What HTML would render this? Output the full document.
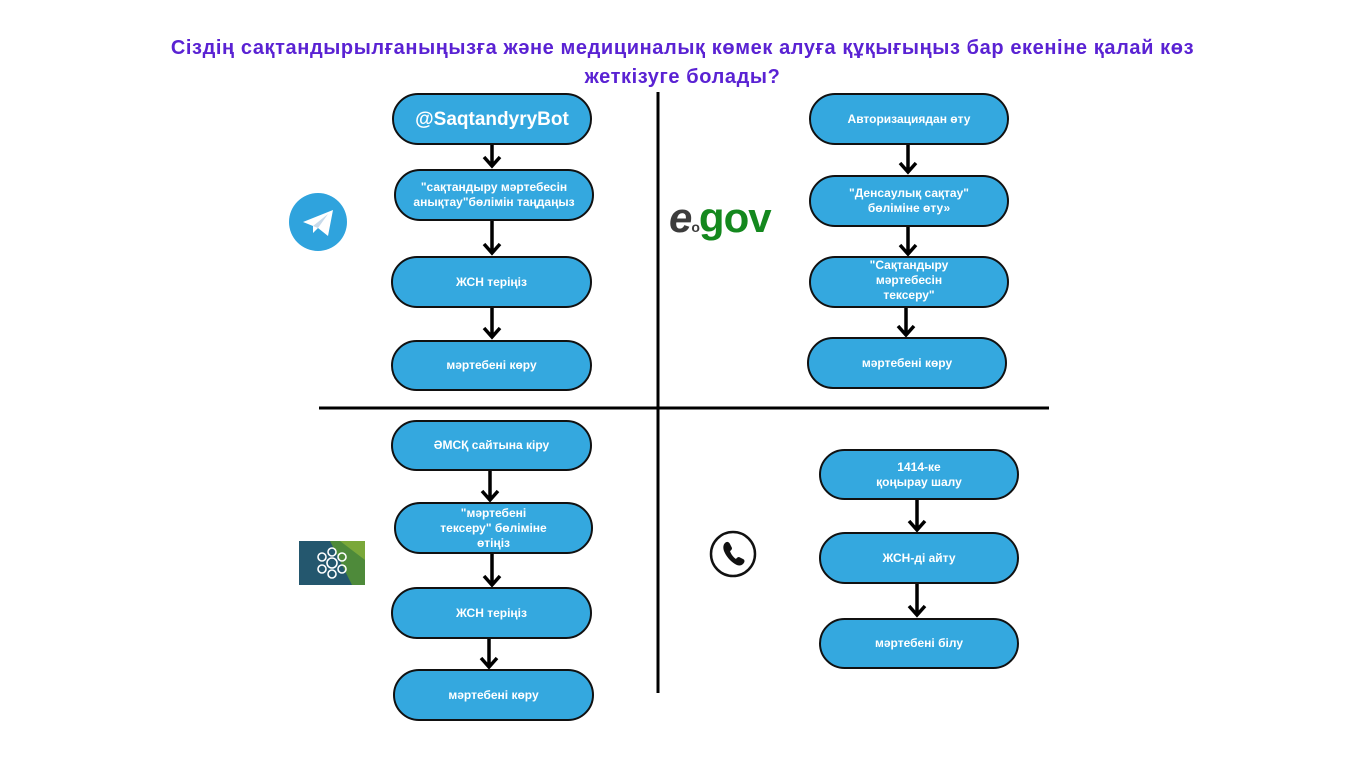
<!DOCTYPE html>
<html><head><meta charset="utf-8"><style>
html,body{margin:0;padding:0;background:#fff;}
body{width:1365px;height:768px;position:relative;overflow:hidden;font-family:"Liberation Sans","DejaVu Sans",sans-serif;}
.t{position:absolute;left:0;width:1365px;text-align:center;color:#5a22d3;font-weight:bold;font-size:20px;letter-spacing:0.6px;line-height:29px;top:34px;}
.b{position:absolute;box-sizing:border-box;background:#34a8df;border:2px solid #111;border-radius:26px;color:#fff;font-weight:bold;font-size:12px;line-height:15px;display:flex;align-items:center;justify-content:center;text-align:center;}
</style></head><body>
<div class="t">Сіздің сақтандырылғаныңызға және медициналық көмек алуға құқығыңыз бар екеніне қалай көз<br>жеткізуге болады?</div>
<svg width="1365" height="768" style="position:absolute;left:0;top:0">
<g stroke="#000" stroke-width="3" fill="none">
<line x1="658" y1="92" x2="658" y2="693"/>
<line x1="319" y1="408" x2="1049" y2="408"/>
</g>
<g stroke="#000" stroke-width="3.5" fill="none" stroke-linejoin="miter">
<path d="M492 145V166M484 157L492 166L500 157"/>
<path d="M492 221V253M484 244L492 253L500 244"/>
<path d="M492 308V337M484 328L492 337L500 328"/>
<path d="M908 145V172M900 163L908 172L916 163"/>
<path d="M908 227V254M900 245L908 254L916 245"/>
<path d="M906 308V335M898 326L906 335L914 326"/>
<path d="M490 471V500M482 491L490 500L498 491"/>
<path d="M492 554V585M484 576L492 585L500 576"/>
<path d="M489 639V667M481 658L489 667L497 658"/>
<path d="M917 500V530M909 521L917 530L925 521"/>
<path d="M917 584V615M909 606L917 615L925 606"/>
</g>
<circle cx="318" cy="222" r="29" fill="#2fa3dd"/>
<path d="M303 222L333 210L328 236L318 228L313 233L313 226Z" fill="#fff"/>
<path d="M313 226L328 214L318 228Z" fill="#c8daea"/>
<circle cx="733" cy="554" r="22" fill="#fff" stroke="#111" stroke-width="2.5"/>
<path d="M725 543c2-2 4-1 5 1l2 4c0 2-2 3-2 3 1 3 3 6 6 8 0 0 1-2 3-2l4 2c2 1 2 3 0 5-2 2-5 2-8 0-5-3-9-8-11-13-1-3-1-6 1-8z" fill="#111"/>
<rect x="299" y="541" width="66" height="44" fill="#24576e"/>
<polygon points="330,541 365,541 365,585 352,585" fill="#4e8a3a"/>
<polygon points="340,541 365,541 365,560" fill="#7aa83a"/>
<g stroke="#fff" stroke-width="1.6" fill="none">
<circle cx="332" cy="563" r="5"/><circle cx="332" cy="552" r="4"/><circle cx="332" cy="574" r="4"/>
<circle cx="322" cy="557" r="4"/><circle cx="342" cy="557" r="4"/><circle cx="322" cy="569" r="4"/><circle cx="342" cy="569" r="4"/>
</g>
</svg>
<div style="position:absolute;left:669px;top:196px;font-weight:bold;font-size:42px;line-height:44px;letter-spacing:-1px"><span style="color:#3c3c3c;font-style:italic">e</span><span style="color:#3c3c3c;font-size:14px">o</span><span style="color:#14881e">gov</span></div>
<div class="b" style="left:392px;top:93px;width:200px;height:52px;font-size:19px">@SaqtandyryBot</div>
<div class="b" style="left:394px;top:169px;width:200px;height:52px;">"сақтандыру мәртебесін<br>анықтау"бөлімін таңдаңыз</div>
<div class="b" style="left:391px;top:256px;width:201px;height:52px;">ЖСН теріңіз</div>
<div class="b" style="left:391px;top:340px;width:201px;height:51px;">мәртебені көру</div>
<div class="b" style="left:809px;top:93px;width:200px;height:52px;">Авторизациядан өту</div>
<div class="b" style="left:809px;top:175px;width:200px;height:52px;">"Денсаулық сақтау"<br>бөліміне өту»</div>
<div class="b" style="left:809px;top:256px;width:200px;height:52px;align-items:flex-start;padding-top:0">"Сақтандыру<br>мәртебесін<br>тексеру"</div>
<div class="b" style="left:807px;top:337px;width:200px;height:52px;">мәртебені көру</div>
<div class="b" style="left:391px;top:420px;width:201px;height:51px;">ӘМСҚ сайтына кіру</div>
<div class="b" style="left:394px;top:502px;width:199px;height:52px;">"мәртебені<br>тексеру" бөліміне<br>өтіңіз</div>
<div class="b" style="left:391px;top:587px;width:201px;height:52px;">ЖСН теріңіз</div>
<div class="b" style="left:393px;top:669px;width:201px;height:52px;">мәртебені көру</div>
<div class="b" style="left:819px;top:449px;width:200px;height:51px;">1414-ке<br>қоңырау шалу</div>
<div class="b" style="left:819px;top:532px;width:200px;height:52px;">ЖСН-ді айту</div>
<div class="b" style="left:819px;top:618px;width:200px;height:51px;">мәртебені білу</div>
</body></html>
